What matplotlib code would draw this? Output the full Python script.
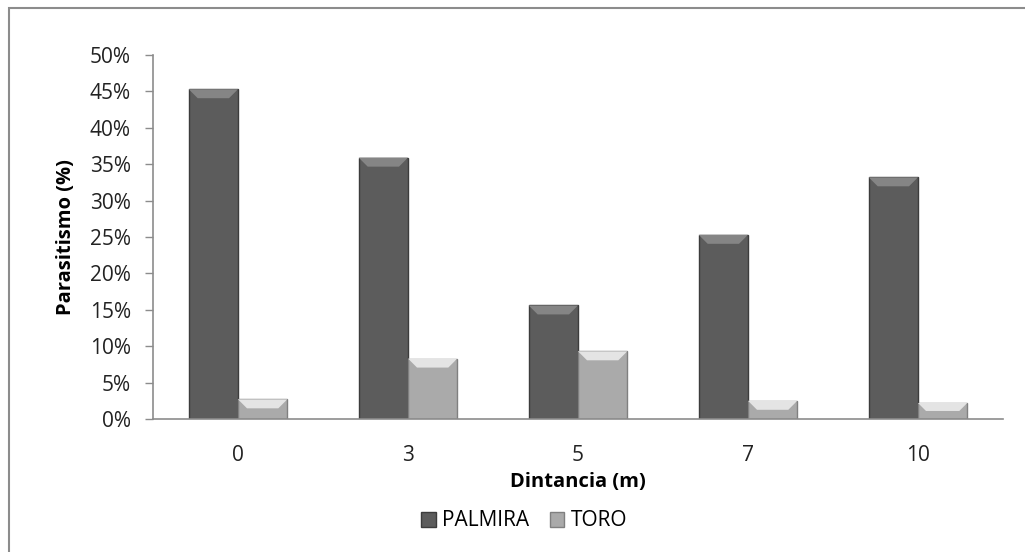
import matplotlib.pyplot as plt
from matplotlib.patches import Polygon, Rectangle
from matplotlib.ticker import PercentFormatter
import numpy as np

plt.rcParams['font.family'] = ['Open Sans', 'DejaVu Sans']

distances = ["0", "3", "5", "7", "10"]
palmira = [45.3, 35.9, 15.6, 25.3, 33.2]
toro = [2.7, 8.3, 9.3, 2.5, 2.2]

series = [
    ("PALMIRA", palmira, "#5c5c5c", "#3c3c3c", "#858585"),
    ("TORO", toro, "#aaaaaa", "#808080", "#e4e4e4"),
]

fig = plt.figure(figsize=(10.25, 5.52), dpi=100)
ax = fig.add_axes([153 / 1025, 1 - 419 / 552, 850 / 1025, 364 / 552])

# chart frame (only the left/top edges show in the original crop)
fig.patches.append(Rectangle((9 / 1025, -0.1), 1.2, 1 - 8 / 552 + 0.1,
                             transform=fig.transFigure, fill=False,
                             edgecolor="#8c8c8c", linewidth=1.5))

x = np.arange(len(distances))
w = 0.29
bars_all = []
for i, (name, vals, face, edge, top) in enumerate(series):
    offs = (i - 0.5) * w
    bars = ax.bar(x + offs, vals, w, color=face, edgecolor=edge,
                  linewidth=1.0, label=name, zorder=2)
    bars_all.append((bars, top))

ax.set_xlim(-0.5, len(distances) - 0.5)
ax.set_ylim(0, 50)
ax.set_yticks(np.arange(0, 51, 5))
ax.yaxis.set_major_formatter(PercentFormatter(decimals=0))
ax.set_xticks(x)
ax.set_xticklabels(distances)
ax.tick_params(axis="x", length=0, labelsize=15, pad=19, colors="#222222")
ax.tick_params(axis="y", length=6, width=1, color="#8c8c8c", labelsize=15,
               pad=10, labelcolor="#222222")
for s in ["top", "right"]:
    ax.spines[s].set_visible(False)
for s in ["left", "bottom"]:
    ax.spines[s].set_color("#8c8c8c")
    ax.spines[s].set_linewidth(1.2)

# bevel on the top of each bar, built from the bar geometry
fig.canvas.draw()
inv = ax.transData.inverted()
for bars, top in bars_all:
    for b in bars:
        x0, y0 = b.get_x(), b.get_height()
        x1 = x0 + b.get_width()
        px0, py = ax.transData.transform((x0, y0))
        px1, _ = ax.transData.transform((x1, y0))
        d = min(9, (py - ax.transData.transform((0, 0))[1]) * 0.5)
        pts = [(px0, py), (px1, py), (px1 - d, py - d), (px0 + d, py - d)]
        pts = [inv.transform(p) for p in pts]
        ax.add_patch(Polygon(pts, closed=True, facecolor=top,
                             edgecolor="none", zorder=3))

ax.set_xlabel("Dintancia (m)", fontsize=14.5, fontweight="bold", labelpad=4)
ax.set_ylabel("Parasitismo (%)", fontsize=14.5, fontweight="bold", labelpad=10)

ax.legend(loc="center", bbox_to_anchor=(371 / 850, -102 / 364), ncol=2,
          frameon=False, fontsize=15, handlelength=0.7, handleheight=0.7,
          handletextpad=0.3, columnspacing=1.0)

fig.savefig("out.png", dpi=100)
